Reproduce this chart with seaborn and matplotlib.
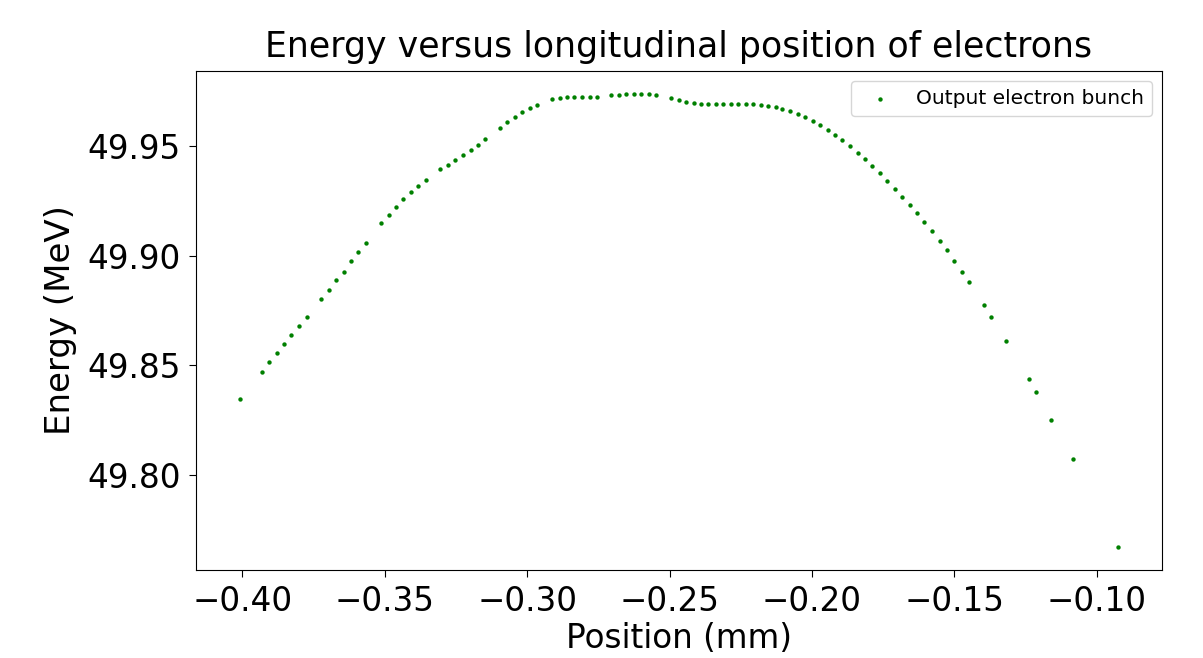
import numpy as np
import pandas as pd
import matplotlib
matplotlib.use("Agg")
import matplotlib.pyplot as plt
import matplotlib.ticker as mticker
import seaborn as sns

# --- data ---
position_mm = [
    -0.4009, -0.3931, -0.3905, -0.3880, -0.3854, -0.3828, -0.3801, -0.3775,
    -0.3723, -0.3697, -0.3670, -0.3644, -0.3619, -0.3593, -0.3566, -0.3513,
    -0.3487, -0.3461, -0.3435, -0.3409, -0.3382, -0.3356, -0.3305, -0.3278,
    -0.3252, -0.3226, -0.3199, -0.3174, -0.3147, -0.3095, -0.3070, -0.3043,
    -0.3017, -0.2990, -0.2964, -0.2913, -0.2886, -0.2860, -0.2834, -0.2807,
    -0.2781, -0.2756, -0.2704, -0.2679, -0.2652, -0.2625, -0.2599, -0.2573,
    -0.2548, -0.2495, -0.2468, -0.2442, -0.2415, -0.2390, -0.2364, -0.2337,
    -0.2311, -0.2285, -0.2258, -0.2233, -0.2206, -0.2180, -0.2153, -0.2127,
    -0.2104, -0.2077, -0.2050, -0.2024, -0.1997, -0.1972, -0.1945, -0.1919,
    -0.1893, -0.1866, -0.1840, -0.1814, -0.1788, -0.1762, -0.1735, -0.1709,
    -0.1684, -0.1657, -0.1631, -0.1605, -0.1578, -0.1552, -0.1527, -0.1501,
    -0.1474, -0.1448, -0.1396, -0.1370, -0.1317, -0.1239, -0.1213, -0.1161,
    -0.1082, -0.0925,
]
energy_mev = [
    49.8345, 49.8471, 49.8515, 49.8556, 49.8597, 49.8637, 49.8678, 49.8721,
    49.8803, 49.8844, 49.8888, 49.8928, 49.8974, 49.9016, 49.9058, 49.9147,
    49.9185, 49.9223, 49.9258, 49.9290, 49.9319, 49.9346, 49.9394, 49.9415,
    49.9435, 49.9458, 49.9482, 49.9506, 49.9532, 49.9582, 49.9610, 49.9631,
    49.9654, 49.9672, 49.9689, 49.9713, 49.9719, 49.9722, 49.9722, 49.9722,
    49.9724, 49.9724, 49.9731, 49.9734, 49.9737, 49.9739, 49.9739, 49.9739,
    49.9733, 49.9719, 49.9710, 49.9702, 49.9696, 49.9693, 49.9693, 49.9693,
    49.9693, 49.9693, 49.9693, 49.9692, 49.9690, 49.9687, 49.9683, 49.9678,
    49.9669, 49.9658, 49.9648, 49.9632, 49.9614, 49.9595, 49.9573, 49.9550,
    49.9526, 49.9499, 49.9469, 49.9439, 49.9407, 49.9375, 49.9340, 49.9305,
    49.9268, 49.9232, 49.9193, 49.9153, 49.9112, 49.9069, 49.9024, 49.8978,
    49.8926, 49.8878, 49.8774, 49.8719, 49.8611, 49.8439, 49.8377, 49.8252,
    49.8071, 49.7670,
]
series_label = "Output electron bunch"

df = pd.DataFrame({"position": position_mm, "energy": energy_mev})

# --- figure ---
fig = plt.figure(figsize=(12.03, 6.58), dpi=100)
ax = fig.add_axes([0.1629, 0.1337, 0.8030, 0.7584])

sns.scatterplot(
    data=df, x="position", y="energy", ax=ax,
    color="green", s=10, linewidth=0, label=series_label,
)

ax.set_title("Energy versus longitudinal position of electrons", fontsize=25, pad=10)
ax.set_xlabel("Position (mm)", fontsize=23.5, labelpad=3)
ax.set_ylabel("Energy (MeV)", fontsize=24.5, labelpad=7)
ax.set_xticks([-0.40, -0.35, -0.30, -0.25, -0.20, -0.15, -0.10])
ax.set_yticks([49.80, 49.85, 49.90, 49.95])
ax.xaxis.set_major_formatter(mticker.ScalarFormatter(useOffset=False))
ax.yaxis.set_major_formatter(mticker.ScalarFormatter(useOffset=False))
ax.tick_params(labelsize=23.5, length=5, pad=6)
ax.legend(loc="upper right", fontsize=14.5)

fig.savefig("out.png", dpi=100)
